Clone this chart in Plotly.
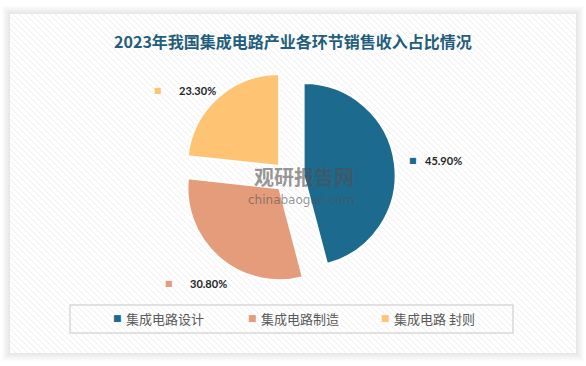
import plotly.graph_objects as go

# ---------------- data ----------------
categories = ["集成电路设计", "集成电路制造", "集成电路 封则"]
shares = [45.90, 30.80, 23.30]
colors = ["#1C6B8E", "#E59C7B", "#FFC374"]
title_text = "2023年我国集成电路产业各环节销售收入占比情况"

W, H = 586, 366


def px(x):
    return x / W


def py(y):
    return 1 - y / H


# pie geometry (pixels)
cx, cy, r, pull = 289, 177, 92, 0.16
half = r * (1 + pull)

fig = go.Figure()
fig.add_trace(go.Pie(
    labels=categories, values=shares, sort=False,
    direction="clockwise", rotation=0,
    marker=dict(colors=colors, line=dict(color="white", width=2)),
    pull=[pull] * len(shares), textinfo="none",
    hoverinfo="label+percent", showlegend=False,
    domain=dict(x=[px(cx - half), px(cx + half)], y=[py(cy + half), py(cy - half)]),
))

# ---------------- background card with stripes ----------------
L, T, R, B = 10, 14, 576, 353
shapes = []
for i in range(1, 9):
    shapes.append(dict(type="rect", xref="paper", yref="paper",
                       x0=px(L - i), x1=px(R + i), y0=py(B + i), y1=py(T - i),
                       fillcolor="rgba(0,0,0,0.012)", line=dict(width=0), layer="below"))
shapes.append(dict(type="rect", xref="paper", yref="paper",
                   x0=px(L), x1=px(R), y0=py(B), y1=py(T),
                   fillcolor="#ffffff", line=dict(width=0), layer="below"))
segs = []
c = -(B - T)
while c < (R - L):
    if c >= 0:
        sx, sy = L + c, T
    else:
        sx, sy = L, T - c
    ey_right = T + (R - L - c)
    if ey_right <= B:
        ex, ey = R, ey_right
    else:
        ex, ey = L + c + (B - T), B
    segs.append(f"M{px(sx):.5f},{py(sy):.5f}L{px(ex):.5f},{py(ey):.5f}")
    c += 6
shapes.append(dict(type="path", xref="paper", yref="paper", path="".join(segs),
                   line=dict(color="#eeeeee", width=1), layer="below"))

# legend box
shapes.append(dict(type="rect", xref="paper", yref="paper",
                   x0=px(70), x1=px(513), y0=py(333), y1=py(305),
                   line=dict(color="#d9d9d9", width=1.5), fillcolor="rgba(0,0,0,0)", layer="below"))

annotations = []

# ---------------- data labels ----------------
label_pos = [(413, 161, 10), (169, 283, 19), (158, 90, 19)]  # marker centre (px), text gap
for (mx, my, gap), v, col in zip(label_pos, shares, colors):
    annotations.append(dict(x=px(mx), y=py(my), xref="paper", yref="paper",
                            text="■", showarrow=False, xanchor="center", yanchor="middle",
                            font=dict(family="DejaVu Sans", size=8, color=col)))
    annotations.append(dict(x=px(mx + gap), y=py(my), xref="paper", yref="paper",
                            text=f"{v:.2f}%", showarrow=False, xanchor="left", yanchor="middle",
                            font=dict(family="Lato", size=11, color="#262626", weight="bold")))

# ---------------- legend ----------------
leg_x = [117, 252, 385]
leg_y = 318
for lx, name, col in zip(leg_x, categories, colors):
    annotations.append(dict(x=px(lx), y=py(leg_y), xref="paper", yref="paper",
                            text="■", showarrow=False, xanchor="center", yanchor="middle",
                            font=dict(family="DejaVu Sans", size=9, color=col)))
    annotations.append(dict(x=px(lx + 7), y=py(leg_y), xref="paper", yref="paper",
                            text=name, showarrow=False, xanchor="left", yanchor="middle",
                            font=dict(family="Noto Sans CJK SC", size=13, color="#595959")))

# ---------------- watermark ----------------
annotations.append(dict(x=px(304), y=py(176), xref="paper", yref="paper", text="<b>观研报告网</b>",
                        showarrow=False, xanchor="center", yanchor="middle",
                        font=dict(family="Noto Sans CJK SC", size=20, color="rgba(80,80,80,0.6)")))
annotations.append(dict(x=px(301), y=py(200), xref="paper", yref="paper", text="chinabaogao.com",
                        showarrow=False, xanchor="center", yanchor="middle",
                        font=dict(family="DejaVu Sans", size=12, color="rgba(80,80,80,0.6)")))

fig.update_layout(
    width=W, height=H,
    margin=dict(l=0, r=0, t=0, b=0),
    paper_bgcolor="#ffffff", plot_bgcolor="#ffffff",
    title=dict(text=f"<b>{title_text}</b>", x=0.5, xanchor="center",
               y=py(42), yanchor="middle", yref="container",
               font=dict(family="Noto Sans CJK SC", size=16, color="#1F5E7C")),
    shapes=shapes, annotations=annotations,
    showlegend=False,
)

fig.write_html("out.html")
